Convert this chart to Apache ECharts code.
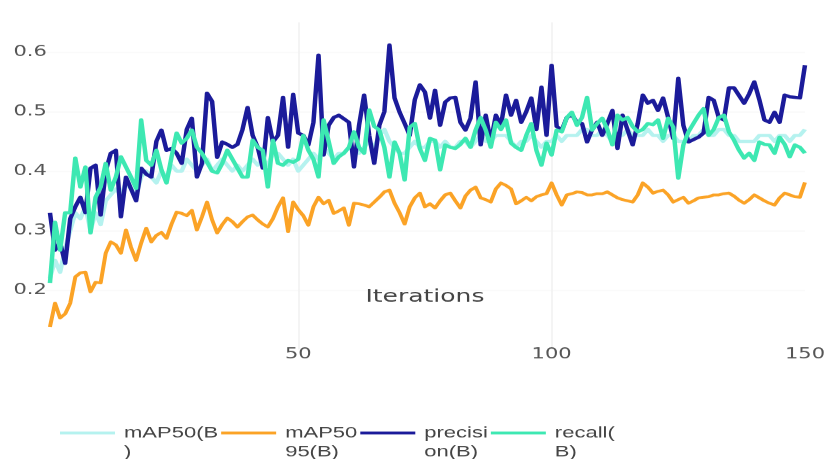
<!DOCTYPE html>
<html>
<head>
<meta charset="utf-8">
<script src="https://cdn.jsdelivr.net/npm/echarts@6/dist/echarts.min.js"></script>
<style>
  html, body { margin: 0; padding: 0; background: #ffffff; overflow: hidden; }
  #wrap { width: 828px; height: 459px; overflow: hidden; }
  /* the figure is laid out tall and then compressed vertically */
  #chart { width: 828px; height: 656px; transform: scaleY(0.7); transform-origin: 0 0; }
</style>
</head>
<body>
<div id="wrap"><div id="chart"></div></div>
<script>
// Training metrics per iteration
const seriesNames = ['mAP50(B\n)', 'mAP50\n95(B)', 'precisi\non(B)', 'recall(\nB)'];
const xTicks = [50, 100, 150];

const mAP50 = [
  0.22, 0.25, 0.23, 0.27, 0.30, 0.33, 0.32, 0.34, 0.30, 0.33,
  0.31, 0.35, 0.36, 0.37, 0.36, 0.38, 0.37, 0.36, 0.39, 0.40,
  0.39, 0.38, 0.40, 0.39, 0.41, 0.40, 0.40, 0.42, 0.41, 0.40,
  0.41, 0.42, 0.40, 0.41, 0.42, 0.41, 0.40, 0.41, 0.40, 0.41,
  0.42, 0.41, 0.42, 0.41, 0.43, 0.43, 0.42, 0.41, 0.42, 0.40,
  0.41, 0.42, 0.43, 0.42, 0.44, 0.43, 0.42, 0.43, 0.43, 0.44,
  0.44, 0.43, 0.44, 0.45, 0.44, 0.46, 0.47, 0.45, 0.44, 0.43,
  0.43, 0.44, 0.45, 0.44, 0.44, 0.45, 0.45, 0.44, 0.45, 0.44,
  0.44, 0.45, 0.45, 0.44, 0.45, 0.46, 0.45, 0.45, 0.46, 0.46,
  0.46, 0.45, 0.44, 0.45, 0.45, 0.46, 0.45, 0.44, 0.45, 0.45,
  0.46, 0.45, 0.46, 0.46, 0.46, 0.47, 0.47, 0.46, 0.46, 0.47,
  0.46, 0.45, 0.46, 0.46, 0.47, 0.46, 0.46, 0.46, 0.47, 0.46,
  0.46, 0.45, 0.46, 0.46, 0.45, 0.45, 0.45, 0.46, 0.46, 0.47,
  0.46, 0.46, 0.47, 0.47, 0.46, 0.46, 0.45, 0.45, 0.45, 0.45,
  0.46, 0.46, 0.46, 0.45, 0.46, 0.46, 0.45, 0.46, 0.46, 0.47
];

const mAP50_95 = [
  0.138, 0.178, 0.153, 0.160, 0.178, 0.222, 0.229, 0.230, 0.197, 0.213,
  0.212, 0.262, 0.281, 0.276, 0.262, 0.301, 0.272, 0.250, 0.279, 0.304,
  0.281, 0.292, 0.297, 0.287, 0.311, 0.331, 0.329, 0.325, 0.334, 0.301,
  0.323, 0.348, 0.318, 0.296, 0.310, 0.321, 0.315, 0.306, 0.315, 0.323,
  0.326, 0.318, 0.311, 0.306, 0.320, 0.340, 0.355, 0.298, 0.348, 0.335,
  0.325, 0.309, 0.340, 0.356, 0.345, 0.351, 0.329, 0.333, 0.338, 0.309,
  0.346, 0.345, 0.343, 0.340, 0.348, 0.356, 0.365, 0.368, 0.346, 0.330,
  0.311, 0.340, 0.355, 0.363, 0.340, 0.345, 0.338, 0.350, 0.360, 0.363,
  0.350, 0.338, 0.358, 0.368, 0.373, 0.355, 0.352, 0.348, 0.370, 0.380,
  0.376, 0.370, 0.345, 0.350, 0.356, 0.350, 0.357, 0.360, 0.362, 0.380,
  0.360, 0.343, 0.360, 0.362, 0.365, 0.364, 0.360, 0.360, 0.362, 0.362,
  0.365, 0.360, 0.355, 0.352, 0.350, 0.348, 0.360, 0.380, 0.373, 0.363,
  0.366, 0.368, 0.360, 0.348, 0.352, 0.356, 0.346, 0.350, 0.355, 0.356,
  0.357, 0.360, 0.360, 0.362, 0.363, 0.358, 0.351, 0.346, 0.352, 0.360,
  0.355, 0.350, 0.346, 0.343, 0.355, 0.363, 0.360, 0.357, 0.356, 0.381
];

const precision = [
  0.330, 0.267, 0.280, 0.245, 0.320, 0.340, 0.356, 0.330, 0.405, 0.410,
  0.326, 0.400, 0.430, 0.435, 0.323, 0.390, 0.370, 0.350, 0.405, 0.395,
  0.390, 0.450, 0.469, 0.435, 0.438, 0.430, 0.413, 0.470, 0.489, 0.390,
  0.413, 0.531, 0.517, 0.423, 0.449, 0.445, 0.440, 0.445, 0.470, 0.507,
  0.460, 0.440, 0.405, 0.490, 0.449, 0.460, 0.524, 0.440, 0.529, 0.464,
  0.460, 0.444, 0.482, 0.595, 0.427, 0.477, 0.490, 0.494, 0.488, 0.482,
  0.407, 0.477, 0.528, 0.460, 0.413, 0.477, 0.500, 0.612, 0.523, 0.499,
  0.480, 0.460, 0.520, 0.545, 0.533, 0.489, 0.536, 0.477, 0.516, 0.523,
  0.524, 0.482, 0.469, 0.489, 0.550, 0.444, 0.494, 0.449, 0.494, 0.477,
  0.528, 0.494, 0.519, 0.482, 0.500, 0.523, 0.470, 0.541, 0.460, 0.578,
  0.475, 0.469, 0.490, 0.495, 0.482, 0.480, 0.449, 0.470, 0.482, 0.460,
  0.480, 0.502, 0.438, 0.494, 0.469, 0.444, 0.480, 0.528, 0.514, 0.519,
  0.502, 0.523, 0.490, 0.455, 0.556, 0.477, 0.449, 0.453, 0.457, 0.464,
  0.524, 0.519, 0.490, 0.486, 0.540, 0.540, 0.527, 0.514, 0.530, 0.550,
  0.520, 0.486, 0.482, 0.499, 0.482, 0.528, 0.525, 0.524, 0.523, 0.578
];

const recall = [
  0.212, 0.314, 0.267, 0.330, 0.330, 0.422, 0.373, 0.407, 0.296, 0.356,
  0.373, 0.413, 0.368, 0.390, 0.424, 0.407, 0.390, 0.371, 0.486, 0.418,
  0.410, 0.435, 0.402, 0.380, 0.424, 0.464, 0.447, 0.455, 0.469, 0.440,
  0.430, 0.415, 0.400, 0.397, 0.413, 0.435, 0.420, 0.405, 0.390, 0.390,
  0.452, 0.440, 0.435, 0.373, 0.452, 0.413, 0.410, 0.418, 0.415, 0.420,
  0.460, 0.435, 0.420, 0.390, 0.486, 0.450, 0.413, 0.424, 0.430, 0.440,
  0.466, 0.440, 0.430, 0.503, 0.475, 0.469, 0.440, 0.390, 0.449, 0.430,
  0.385, 0.474, 0.480, 0.438, 0.418, 0.455, 0.452, 0.402, 0.444, 0.440,
  0.438, 0.445, 0.455, 0.440, 0.469, 0.490, 0.469, 0.440, 0.482, 0.470,
  0.486, 0.447, 0.440, 0.435, 0.460, 0.480, 0.435, 0.410, 0.447, 0.427,
  0.469, 0.466, 0.490, 0.499, 0.477, 0.490, 0.524, 0.469, 0.480, 0.489,
  0.470, 0.444, 0.494, 0.486, 0.490, 0.475, 0.466, 0.470, 0.480, 0.478,
  0.486, 0.455, 0.489, 0.474, 0.388, 0.444, 0.466, 0.480, 0.494, 0.505,
  0.460, 0.470, 0.490, 0.494, 0.466, 0.452, 0.435, 0.422, 0.430, 0.418,
  0.449, 0.445, 0.444, 0.430, 0.457, 0.445, 0.424, 0.444, 0.440, 0.430
];

const colors = ['#b5f2ef', '#fba326', '#1b1b9a', '#3de8b2'];
const widths = [4.5, 4, 4.5, 4.5];
const values = [mAP50, mAP50_95, precision, recall];

function pairs(arr) {
  return arr.map((v, i) => [i + 1, v]);
}

const chart = echarts.init(document.getElementById('chart'), null, { renderer: 'canvas' });

chart.setOption({
  animation: false,
  backgroundColor: '#ffffff',
  color: colors,
  grid: { left: 44.9, right: 19.2, top: 32, bottom: 156.7, containLabel: false },
  xAxis: {
    type: 'value',
    min: 0,
    max: 150,
    interval: 50,
    name: 'Iterations',
    nameLocation: 'middle',
    nameGap: -87,
    nameTextStyle: { fontFamily: 'DejaVu Sans', fontSize: 25, color: '#444444' },
    axisLine: { show: false },
    axisTick: { show: false },
    splitLine: {
      show: true,
      showMinLine: false,
      showMaxLine: false,
      lineStyle: { color: '#f0f0f0', width: 1.5 }
    },
    axisLabel: {
      showMinLabel: false,
      margin: -3,
      fontFamily: 'DejaVu Sans',
      fontSize: 21,
      color: '#555555',
      formatter: (v) => (xTicks.indexOf(v) >= 0 ? String(v) : '')
    }
  },
  yAxis: {
    type: 'value',
    min: 0.1,
    max: 0.65,
    interval: 0.1,
    axisLine: { show: false },
    axisTick: { show: false },
    splitLine: {
      show: true,
      showMinLine: false,
      showMaxLine: false,
      lineStyle: { color: '#f8f8f8', width: 1.5 }
    },
    axisLabel: {
      showMinLabel: false,
      showMaxLabel: false,
      margin: -2,
      fontFamily: 'DejaVu Sans',
      fontSize: 21,
      color: '#555555',
      formatter: (v) => v.toFixed(1)
    }
  },
  legend: {
    left: 60,
    top: 578,
    padding: 0,
    itemGap: 3,
    itemWidth: 55,
    itemHeight: 4,
    icon: 'rect',
    // a blank first line keeps the swatch level with the first text line
    formatter: (name) => '\n' + name,
    textStyle: {
      fontFamily: 'Liberation Sans',
      fontSize: 22,
      lineHeight: 27,
      color: '#444444',
      padding: [0, 0, 0, 4]
    },
    data: seriesNames
  },
  series: seriesNames.map((name, k) => ({
    name: name,
    type: 'line',
    data: pairs(values[k]),
    showSymbol: false,
    symbol: 'none',
    lineStyle: { color: colors[k], width: widths[k], join: 'round' },
    itemStyle: { color: colors[k] },
    z: 2 + k
  }))
});
</script>
</body>
</html>
